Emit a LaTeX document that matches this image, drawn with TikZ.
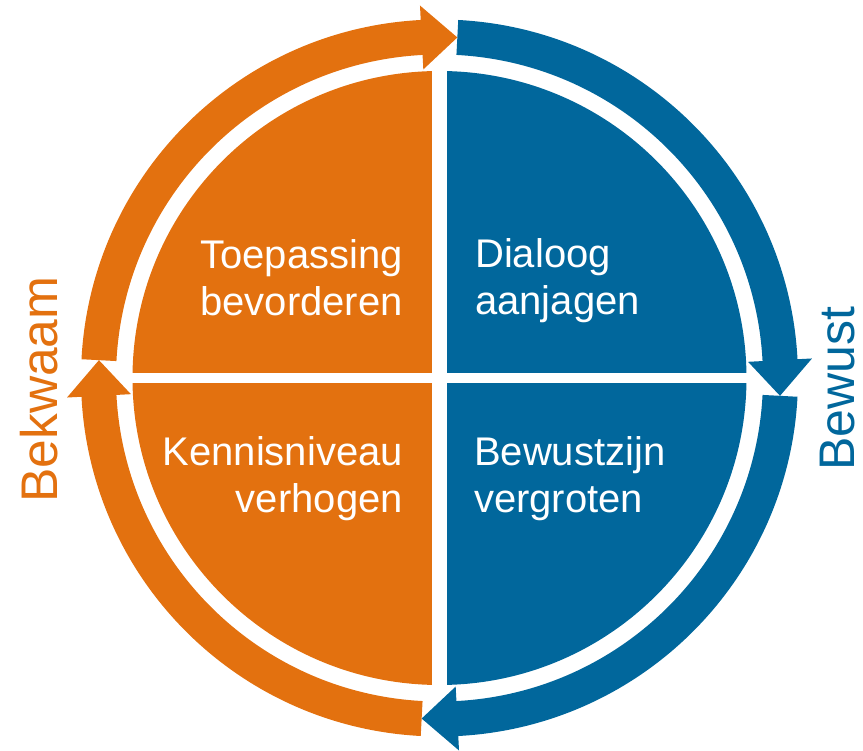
\documentclass[tikz,border=0pt]{standalone}
\usepackage{fontspec}
\setmainfont{Liberation Sans}
\definecolor{orng}{HTML}{E3710F}
\definecolor{blu}{HTML}{01679C}
\tikzset{
  quadtext/.style={text=white, inner sep=0pt, font=\fontsize{40}{47}\selectfont},
  sidelabel/.style={inner sep=0pt, rotate=90, anchor=base},
}
\begin{document}
\begin{tikzpicture}[x=1pt,y=1pt]
\useasboundingbox (-439.5,-373) rectangle (423.5,378);
% inner disc quadrants
\begin{scope}
  \clip (0,0) circle (307pt);
  \fill[orng] (-320,5) rectangle (-7.5,320);
  \fill[orng] (-320,-5) rectangle (-7.5,-320);
  \fill[blu] (7.5,5) rectangle (320,320);
  \fill[blu] (7.5,-5) rectangle (320,-320);
\end{scope}
% ring arrows
\foreach \s/\c in {177/orng, 87/blu, -3/blu, -93/orng}{
  \pgfmathsetmacro\e{\s-84}
  \pgfmathsetmacro\t{\s-90}
  \fill[\c] (\s:358.5pt) arc[start angle=\s, end angle=\e, radius=358.5pt]
    -- (\e:373pt) -- (\t:341pt) -- (\e:309pt) -- (\e:323.5pt)
    arc[start angle=\e, end angle=\s, radius=323.5pt] -- cycle;
}
% texts
\node[quadtext, anchor=north east, align=right] (tl) at (-36.5,138.6) {Toepassing\\bevorderen};
\node[quadtext, anchor=north west, align=left] (tr) at (35.5,139.5) {Dialoog\\aanjagen};
\node[quadtext, anchor=north east, align=right] (bl) at (-36.5,-58.4) {Kennisniveau\\verhogen};
\node[quadtext, anchor=north west, align=left] (br) at (34.5,-58.4) {Bewustzijn\\vergroten};
\node[sidelabel, text=orng, font=\fontsize{51.5}{60}\selectfont] (bekwaam) at (-381.5,-11.5) {Bekwaam};
\node[sidelabel, text=blu, font=\fontsize{50}{60}\selectfont] (bewust) at (414.5,-11) {Bewust};
\end{tikzpicture}
\end{document}
